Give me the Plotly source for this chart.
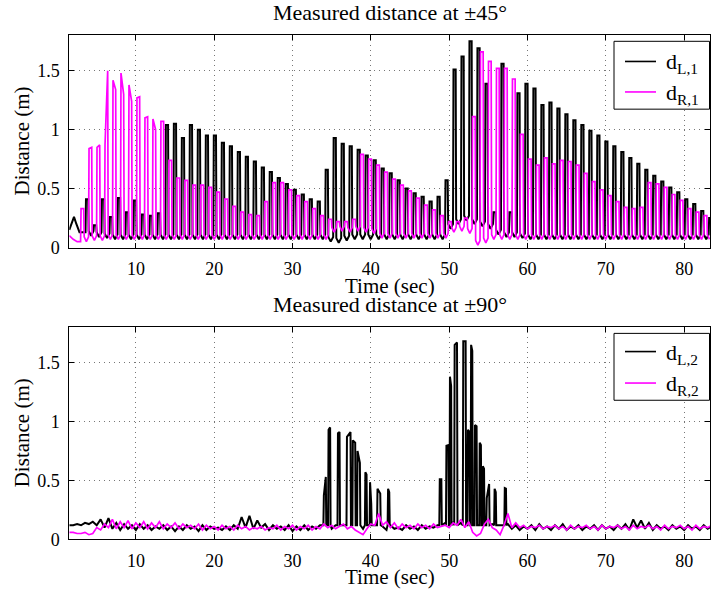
import plotly.graph_objects as go

W, H = 717, 603

# ---------------- data ----------------
PERIOD = 1.02          # oscillation period (s)
L1_T_FIRST = 3.63      # first d_L,1 pulse time
R1_T_FIRST = 3.00      # first d_R,1 pulse time
FOOT = 0.04            # pulses start this much above the trough bottom

L1_pre_t = [1.5, 1.8, 2.1, 2.4, 2.8]
L1_pre_v = [0.15, 0.21, 0.26, 0.20, 0.13]
L1_peak = [0.41, 0.19, 0.41, 0.26, 0.42, 0.30, 0.40, 0.28, 0.27, 0.29,
           1.04, 1.05, 0.93, 1.04, 1.00, 0.95, 0.95, 0.89, 0.86, 0.81,
           0.77, 0.73, 0.68, 0.64, 0.59, 0.54, 0.49, 0.45, 0.41, 0.39,
           0.66, 0.93, 0.88, 0.86, 0.83, 0.78, 0.74, 0.67, 0.63, 0.57,
           0.50, 0.46, 0.43, 0.39, 0.43, 0.57, 1.51, 1.62, 1.75, 1.69,
           1.39, 0.30, 1.56, 0.30, 1.31, 1.39, 1.35, 1.21, 1.23, 1.18,
           1.13, 1.08, 1.04, 0.99, 0.95, 0.90, 0.86, 0.81, 0.76, 0.71,
           0.66, 0.61, 0.56, 0.51, 0.47, 0.41, 0.37, 0.31, 0.25]
L1_trough = [0.10, 0.09, 0.08, 0.07, 0.07, 0.07, 0.07, 0.07, 0.07, 0.07,
             0.07, 0.07, 0.07, 0.07, 0.07, 0.07, 0.07, 0.07, 0.07, 0.07,
             0.07, 0.07, 0.07, 0.07, 0.07, 0.07, 0.07, 0.07, 0.07, 0.07,
             0.05, 0.04, 0.06, 0.07, 0.07, 0.07, 0.07, 0.07, 0.07, 0.07,
             0.07, 0.07, 0.07, 0.07, 0.07, 0.16, 0.20, 0.23, 0.20, 0.18,
             0.16, 0.11, 0.09, 0.09, 0.08, 0.07, 0.07, 0.07, 0.07, 0.07,
             0.07, 0.07, 0.07, 0.07, 0.07, 0.07, 0.07, 0.07, 0.07, 0.07,
             0.07, 0.07, 0.07, 0.07, 0.07, 0.07, 0.07, 0.07, 0.07]

R1_pre_t = [1.5, 2.0, 2.5]
R1_pre_v = [0.10, 0.07, 0.05]
R1_peak = [0.33, 0.84, 0.85, 0.87, 1.42, 1.48, 1.38, 1.27, 1.10, 1.09,
           1.07, 0.74, 0.59, 0.57, 0.53, 0.53, 0.51, 0.47, 0.41, 0.35,
           0.30, 0.28, 0.27, 0.39, 0.55, 0.55, 0.49, 0.44, 0.39, 0.33,
           0.27, 0.24, 0.22, 0.22, 0.24, 0.79, 0.75, 0.70, 0.64, 0.58,
           0.53, 0.48, 0.42, 0.36, 0.32, 0.27, 0.22, 0.22, 0.25, 1.11,
           1.66, 1.58, 1.52, 1.52, 1.43, 0.96, 0.75, 0.70, 0.76, 0.71,
           0.74, 0.73, 0.70, 0.63, 0.56, 0.49, 0.44, 0.39, 0.34, 0.33,
           0.34, 0.55, 0.54, 0.51, 0.45, 0.40, 0.33, 0.30, 0.27]
R1_peak2 = [0.33, 0.85, 0.87, 1.50, 1.34, 1.30, 1.24, 1.28, 1.11, 1.00,
            1.07, 0.74, 0.59, 0.57, 0.53, 0.53, 0.51, 0.47, 0.41, 0.35,
            0.30, 0.28, 0.27, 0.39, 0.55, 0.55, 0.49, 0.44, 0.39, 0.33,
            0.27, 0.24, 0.22, 0.22, 0.24, 0.79, 0.75, 0.70, 0.64, 0.58,
            0.53, 0.48, 0.42, 0.36, 0.32, 0.27, 0.22, 0.22, 0.25, 1.11,
            1.66, 1.58, 1.52, 1.52, 1.43, 0.96, 0.75, 0.70, 0.76, 0.71,
            0.74, 0.73, 0.70, 0.63, 0.56, 0.49, 0.44, 0.39, 0.34, 0.33,
            0.34, 0.55, 0.54, 0.51, 0.45, 0.40, 0.33, 0.30, 0.27]
R1_trough = [0.05, 0.06, 0.06, 0.07, 0.07, 0.07, 0.07, 0.07, 0.07, 0.07,
             0.07, 0.07, 0.07, 0.07, 0.07, 0.07, 0.07, 0.07, 0.07, 0.07,
             0.07, 0.07, 0.07, 0.07, 0.07, 0.07, 0.07, 0.07, 0.07, 0.07,
             0.07, 0.13, 0.14, 0.13, 0.14, 0.13, 0.12, 0.08, 0.08, 0.08,
             0.08, 0.08, 0.08, 0.08, 0.08, 0.08, 0.13, 0.14, 0.12, 0.02,
             0.04, 0.07, 0.07, 0.07, 0.07, 0.07, 0.07, 0.07, 0.07, 0.07,
             0.07, 0.07, 0.07, 0.07, 0.07, 0.07, 0.07, 0.07, 0.07, 0.07,
             0.07, 0.07, 0.07, 0.07, 0.07, 0.07, 0.07, 0.07, 0.07]

# bottom panel: samples every 0.5 s from t = 1.5 s
GRID_T0, GRID_DT = 1.5, 0.5
L2_base = [0.12, 0.12, 0.13, 0.12, 0.14, 0.13, 0.15, 0.12, 0.17, 0.10,
           0.18, 0.09, 0.14, 0.08, 0.13, 0.09, 0.12, 0.08, 0.13, 0.09,
           0.12, 0.08, 0.11, 0.09, 0.12, 0.08, 0.11, 0.07, 0.11, 0.08,
           0.12, 0.09, 0.11, 0.07, 0.12, 0.08, 0.11, 0.09, 0.10, 0.08,
           0.11, 0.08, 0.12, 0.09, 0.19, 0.10, 0.20, 0.09, 0.16, 0.10,
           0.13, 0.08, 0.12, 0.09, 0.11, 0.08, 0.12, 0.07, 0.11, 0.08,
           0.12, 0.08, 0.11, 0.09, 0.12, 0.08, 0.11, 0.09, 0.12, 0.08,
           0.12, 0.06, 0.13, 0.07, 0.12, 0.09, 0.11, 0.08, 0.12, 0.09,
           0.11, 0.08, 0.12, 0.09, 0.10, 0.08, 0.12, 0.09, 0.11, 0.08,
           0.12, 0.09, 0.11, 0.10, 0.12, 0.10, 0.14, 0.12, 0.15, 0.13,
           0.14, 0.12, 0.15, 0.11, 0.13, 0.12, 0.14, 0.10, 0.13, 0.11,
           0.12, 0.10, 0.13, 0.09, 0.12, 0.08, 0.11, 0.09, 0.12, 0.08,
           0.13, 0.09, 0.11, 0.08, 0.12, 0.09, 0.13, 0.08, 0.11, 0.09,
           0.12, 0.08, 0.11, 0.09, 0.12, 0.08, 0.12, 0.09, 0.11, 0.08,
           0.12, 0.09, 0.13, 0.08, 0.17, 0.10, 0.16, 0.09, 0.14, 0.08,
           0.12, 0.09, 0.11, 0.08, 0.12, 0.09, 0.11, 0.08, 0.12, 0.09,
           0.11, 0.08, 0.12, 0.09, 0.11, 0.10]
R2_base = [0.06, 0.06, 0.05, 0.05, 0.06, 0.04, 0.05, 0.10, 0.08, 0.13,
           0.10, 0.17, 0.09, 0.15, 0.10, 0.16, 0.09, 0.14, 0.10, 0.15,
           0.09, 0.14, 0.10, 0.15, 0.09, 0.13, 0.10, 0.14, 0.09, 0.13,
           0.10, 0.12, 0.09, 0.13, 0.08, 0.12, 0.09, 0.11, 0.08, 0.12,
           0.09, 0.11, 0.08, 0.12, 0.09, 0.11, 0.08, 0.10, 0.09, 0.11,
           0.08, 0.10, 0.09, 0.12, 0.08, 0.11, 0.09, 0.12, 0.08, 0.11,
           0.09, 0.12, 0.08, 0.11, 0.09, 0.13, 0.10, 0.12, 0.09, 0.11,
           0.13, 0.09, 0.11, 0.08, 0.06, 0.04, 0.09, 0.13, 0.12, 0.22,
           0.12, 0.15, 0.10, 0.14, 0.09, 0.13, 0.10, 0.12, 0.09, 0.13,
           0.10, 0.12, 0.09, 0.13, 0.10, 0.11, 0.12, 0.10, 0.14, 0.12,
           0.17, 0.10, 0.15, 0.06, 0.03, 0.05, 0.13, 0.17, 0.10, 0.08,
           0.04, 0.12, 0.22, 0.10, 0.14, 0.10, 0.12, 0.09, 0.11, 0.10,
           0.12, 0.09, 0.11, 0.10, 0.12, 0.09, 0.11, 0.08, 0.12, 0.09,
           0.11, 0.10, 0.12, 0.09, 0.11, 0.08, 0.12, 0.09, 0.11, 0.10,
           0.12, 0.09, 0.11, 0.08, 0.12, 0.09, 0.11, 0.10, 0.12, 0.09,
           0.11, 0.08, 0.12, 0.09, 0.11, 0.10, 0.12, 0.09, 0.11, 0.08,
           0.12, 0.09, 0.11, 0.10, 0.12, 0.10]

# d_L,2 bursts: start time, duration, first and last height
L2_burst_t = [34.0, 34.6, 35.8, 36.95, 37.7, 38.3, 39.3, 39.9, 40.85, 42.2,
              48.8, 49.65, 50.1, 50.7, 51.8, 52.4, 52.8, 53.3, 53.9, 54.3,
              54.8, 55.8, 57.1]
L2_burst_w = [0.25, 0.2, 0.2, 0.45, 0.3, 0.3, 0.15, 0.15, 0.35, 0.15,
              0.2, 0.25, 0.15, 0.3, 0.3, 0.2, 0.15, 0.2, 0.15, 0.15,
              0.3, 0.15, 0.15]
L2_burst_h1 = [0.375, 0.93, 0.90, 0.87, 0.84, 0.75, 0.57, 0.485, 0.43, 0.43,
               0.51, 0.795, 1.38, 1.65, 1.68, 0.93, 1.65, 0.97, 0.82, 0.62,
               0.35, 0.43, 0.435]
L2_burst_h2 = [0.53, 0.95, 0.91, 0.91, 0.82, 0.65, 0.55, 0.30, 0.39, 0.40,
               0.51, 0.80, 1.30, 1.67, 1.68, 0.91, 1.60, 0.96, 0.80, 0.60,
               0.47, 0.40, 0.43]
L2_burst_floor = 0.12

X_TICKS = [10, 20, 30, 40, 50, 60, 70, 80]
Y_TICKS = [0, 0.5, 1, 1.5]
Y_TICKTEXT = ["0", "0.5", "1", "1.5"]
X_RANGE = [1.5, 83.3]
Y_RANGE = [0, 1.8]


# ---------------- build series ----------------
def pulse_series(t_first, h1, h2, trough, width, pre_t, pre_v):
    xs, ys = list(pre_t), list(pre_v)
    prev = pre_v[-1]
    for k in range(len(h1)):
        t = t_first + PERIOD * k
        mid = t + width + (PERIOD - width) / 2
        xs += [t - 0.06, t, t + width, t + width + 0.06, mid]
        ys += [prev, h1[k], h2[k], trough[k] + FOOT, trough[k]]
        prev = trough[k] + FOOT
    return xs, ys


def grid_series(base):
    return [GRID_T0 + GRID_DT * i for i in range(len(base))], list(base)


L1x, L1y = pulse_series(L1_T_FIRST, L1_peak, L1_peak, L1_trough, 0.28, L1_pre_t, L1_pre_v)
R1x, R1y = pulse_series(R1_T_FIRST, R1_peak, R1_peak2, R1_trough, 0.34, R1_pre_t, R1_pre_v)

gx, gy = grid_series(L2_base)
pts = []
for x, y in zip(gx, gy):
    inside = any(bt - 0.1 <= x <= bt + bw + 0.1 for bt, bw in zip(L2_burst_t, L2_burst_w))
    if not inside:
        pts.append((x, y))
for bt, bw, a, b in zip(L2_burst_t, L2_burst_w, L2_burst_h1, L2_burst_h2):
    pts += [(bt - 0.06, L2_burst_floor), (bt, a), (bt + bw, b), (bt + bw + 0.06, L2_burst_floor)]
pts.sort()
L2x = [p[0] for p in pts]
L2y = [p[1] for p in pts]
R2x, R2y = grid_series(R2_base)

# ---------------- figure ----------------
FONT = "Liberation Serif"
BLACK = "#000000"
MAG = "#ff00ff"
LW_K = 2.0
LW_M = 1.7


def px(x):
    return x / W


def py(y):
    return 1 - y / H


fig = go.Figure()
fig.add_trace(go.Scatter(x=L1x, y=L1y, mode="lines", line=dict(color=BLACK, width=LW_K),
                         showlegend=False, xaxis="x", yaxis="y"))
fig.add_trace(go.Scatter(x=R1x, y=R1y, mode="lines", line=dict(color=MAG, width=LW_M),
                         showlegend=False, xaxis="x", yaxis="y"))
fig.add_trace(go.Scatter(x=L2x, y=L2y, mode="lines", line=dict(color=BLACK, width=LW_K),
                         showlegend=False, xaxis="x2", yaxis="y2"))
fig.add_trace(go.Scatter(x=R2x, y=R2y, mode="lines", line=dict(color=MAG, width=LW_M),
                         showlegend=False, xaxis="x2", yaxis="y2"))

xdom = [px(69.3), px(710)]
axis_common = dict(showline=True, linecolor="black", linewidth=1, mirror="ticks",
                   ticks="inside", ticklen=5, tickcolor="black", tickwidth=1,
                   showgrid=True, gridcolor="#777777", gridwidth=1, griddash="1px,4px",
                   zeroline=False, tickfont=dict(family=FONT, size=18, color="black"),
                   ticklabelstandoff=5)

fig.update_layout(
    width=W, height=H, margin=dict(l=0, r=0, t=0, b=0),
    paper_bgcolor="white", plot_bgcolor="white", showlegend=False,
    xaxis=dict(domain=xdom, range=X_RANGE, tickvals=X_TICKS, anchor="y", **axis_common),
    yaxis=dict(domain=[py(251.7), py(36)], range=Y_RANGE, tickvals=Y_TICKS,
               ticktext=Y_TICKTEXT, anchor="x", **axis_common),
    xaxis2=dict(domain=xdom, range=X_RANGE, tickvals=X_TICKS, anchor="y2", **axis_common),
    yaxis2=dict(domain=[py(548.5), py(332.7)], range=Y_RANGE, tickvals=Y_TICKS,
                ticktext=Y_TICKTEXT, anchor="x2", **axis_common),
)

ann = []
shapes = []
ttl_font = dict(family=FONT, size=22, color="black")
lab_font = dict(family=FONT, size=21, color="black")
cx = (69.3 + 710) / 2
for title, ty in [("Measured distance at \u00b145\u00b0", 13), ("Measured distance at \u00b190\u00b0", 310)]:
    ann.append(dict(text=title, x=px(cx), y=py(ty), xref="paper", yref="paper",
                    xanchor="center", yanchor="middle", showarrow=False, font=ttl_font))
for ly in [291, 587]:
    ann.append(dict(text="Time (sec)", x=px(cx), y=py(ly), xref="paper", yref="paper",
                    xanchor="center", yanchor="middle", showarrow=False, font=lab_font))
for cy in [(36 + 251.7) / 2, (332.7 + 548.5) / 2]:
    ann.append(dict(text="Distance (m)", x=px(22), y=py(cy), xref="paper", yref="paper",
                    xanchor="center", yanchor="middle", showarrow=False, font=lab_font,
                    textangle=-90))

# legends (drawn by hand)
for (top, bot, rows, labels) in [(42, 111, (62.5, 93.5), ("d<sub>L,1</sub>", "d<sub>R,1</sub>")),
                                 (339, 407, (357.5, 389.5), ("d<sub>L,2</sub>", "d<sub>R,2</sub>"))]:
    shapes.append(dict(type="rect", xref="paper", yref="paper", x0=px(614), x1=px(709.5),
                       y0=py(bot), y1=py(top), line=dict(color="black", width=1),
                       fillcolor="white", layer="above"))
    for ry, lab, col in zip(rows, labels, (BLACK, MAG)):
        shapes.append(dict(type="line", xref="paper", yref="paper", x0=px(625), x1=px(656),
                           y0=py(ry), y1=py(ry), line=dict(color=col, width=1.6), layer="above"))
        ann.append(dict(text=lab, x=px(664), y=py(ry + 2), xref="paper", yref="paper",
                        xanchor="left", yanchor="middle", showarrow=False,
                        font=dict(family=FONT, size=22, color="black")))

fig.update_layout(annotations=ann, shapes=shapes)
fig.write_html("out.html")
